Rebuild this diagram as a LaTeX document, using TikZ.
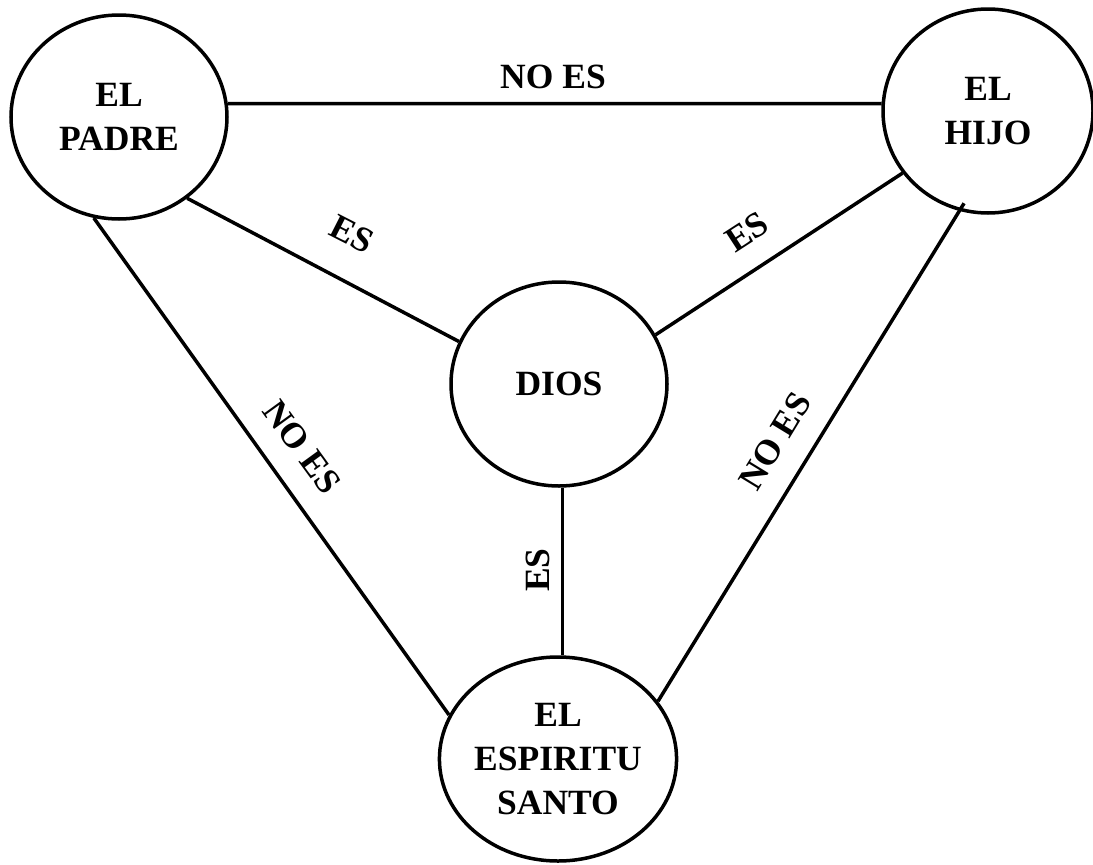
\documentclass[tikz,border=0pt]{standalone}
\usepackage{fontspec}
\setmainfont{Liberation Serif}
\usetikzlibrary{shapes.geometric}
\begin{document}
\begin{tikzpicture}[x=1pt,y=-1pt,
  persona/.style={draw, ellipse, line width=3.5pt, minimum width=216pt, minimum height=204pt, inner sep=0pt, align=center, font=\rmfamily\bfseries\fontsize{35.5}{44}\selectfont},
  enlace/.style={line width=3.5pt},
  etiqueta/.style={font=\rmfamily\bfseries\fontsize{35.5}{44}\selectfont, inner sep=0pt}]
\useasboundingbox (0,0) rectangle (1093,865);
\node[persona] (padre) at (119,117) {EL\\PADRE};
\node[persona, minimum width=210pt] (hijo) at (988,111) {EL\\HIJO};
\node[persona] (dios) at (559,384) {DIOS};
\node[persona, minimum width=218pt] (santo) at (558,759) {EL\\ESPIRITU\\SANTO};

\draw[enlace] (padre.7) -- (hijo.176);
\draw[enlace] (padre.-50) -- (dios.157);
\draw[enlace] (hijo.216) -- (dios.27);
\draw[enlace] (padre.-104) -- (santo.158);
\draw[enlace, shorten >=-9pt] (santo.30) -- (hijo.-106);
\draw[enlace] (dios.-88) -- (dios.-88 |- santo.north);

\node[etiqueta] (l1) at (553,77) {NO ES};
\node[etiqueta, rotate=-27] (l2) at (352,234) {ES};
\node[etiqueta, rotate=33] (l3) at (747,232) {ES};
\node[etiqueta, rotate=-54] (l4) at (302,447) {NO ES};
\node[etiqueta, rotate=58.6] (l5) at (775,441) {NO ES};
\node[etiqueta, rotate=90] (l6) at (538,570) {ES};
\end{tikzpicture}
\end{document}
